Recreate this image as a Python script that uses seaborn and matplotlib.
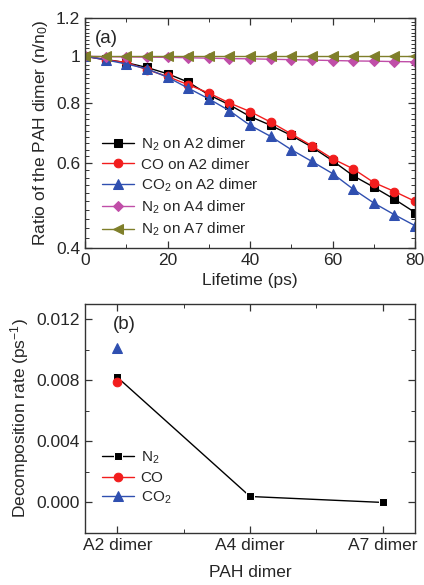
import numpy as np
import pandas as pd
import matplotlib
matplotlib.use("Agg")
import matplotlib.pyplot as plt
from matplotlib.ticker import FixedLocator, NullFormatter, MultipleLocator
import seaborn as sns

sns.set_style("ticks")
plt.rcParams['font.family'] = ['Liberation Sans', 'DejaVu Sans']
plt.rcParams['mathtext.fontset'] = 'custom'
plt.rcParams['mathtext.rm'] = 'Liberation Sans'
plt.rcParams['mathtext.it'] = 'Liberation Sans:italic'
plt.rcParams['mathtext.bf'] = 'Liberation Sans:bold'

# ---- data: panel (a) ----
lifetime = [0, 5, 10, 15, 20, 25, 30, 35, 40, 45, 50, 55, 60, 65, 70, 75, 80]
n2_a2 = [1.000, 0.985, 0.970, 0.948, 0.920, 0.884, 0.832, 0.793, 0.750, 0.719,
         0.685, 0.648, 0.607, 0.565, 0.535, 0.505, 0.474]
co_a2 = [1.000, 0.983, 0.971, 0.938, 0.908, 0.873, 0.839, 0.800, 0.768, 0.730,
         0.690, 0.652, 0.613, 0.584, 0.547, 0.524, 0.500]
co2_a2 = [1.000, 0.983, 0.964, 0.942, 0.905, 0.859, 0.816, 0.771, 0.719, 0.682,
          0.640, 0.605, 0.571, 0.530, 0.496, 0.469, 0.445]
n2_a4 = [1.000, 0.998, 0.997, 0.996, 0.995, 0.993, 0.991, 0.989, 0.988, 0.986,
         0.984, 0.982, 0.980, 0.978, 0.977, 0.975, 0.974]
n2_a7 = [1.000, 1.000, 1.000, 1.000, 1.000, 1.000, 1.000, 1.000, 1.000, 1.000,
         1.000, 1.000, 1.000, 1.000, 1.000, 1.000, 1.000]

series_a = ["N$_2$ on A2 dimer", "CO on A2 dimer", "CO$_2$ on A2 dimer",
            "N$_2$ on A4 dimer", "N$_2$ on A7 dimer"]
values_a = [n2_a2, co_a2, co2_a2, n2_a4, n2_a7]
colors_a = ["#000000", "#f21d1d", "#2f4fb0", "#c04ea8", "#7f7f2a"]
markers_a = ["s", "o", "^", "D", "<"]
msizes_a = [5.5, 6.2, 6.5, 5.5, 6.5]

y_ticks_a = [0.4, 0.6, 0.8, 1.0, 1.2]
y_ticklabels_a = ["0.4", "0.6", "0.8", "1", "1.2"]

# ---- data: panel (b) ----
dimers = ["A2 dimer", "A4 dimer", "A7 dimer"]
rate_n2 = [0.0082, 0.00039, 0.0]
rate_co = [0.0079]
rate_co2 = [0.01016]

fig = plt.figure(figsize=(4.24, 5.85), dpi=100)
ax1 = fig.add_axes([0.2005, 0.576, 0.7785, 0.393])
ax2 = fig.add_axes([0.2005, 0.089, 0.7785, 0.391])

# panel (a)
for name, vals, c, m, ms in zip(series_a, values_a, colors_a, markers_a, msizes_a):
    df = pd.DataFrame({"t": lifetime, "v": vals})
    sns.lineplot(data=df, x="t", y="v", ax=ax1, color=c, marker=m,
                 markersize=ms, markeredgecolor=c, linewidth=1.0,
                 label=name)
ax1.set_yscale("log")
ax1.set_xlim(0, 80)
ax1.set_ylim(0.4, 1.2)
ax1.yaxis.set_major_locator(FixedLocator(y_ticks_a))
ax1.set_yticklabels(y_ticklabels_a)
ax1.yaxis.set_minor_locator(FixedLocator(np.arange(0.42, 1.2, 0.02)))
ax1.yaxis.set_minor_formatter(NullFormatter())
ax1.xaxis.set_major_locator(MultipleLocator(20))
ax1.xaxis.set_minor_locator(MultipleLocator(10))
ax1.set_xlabel("Lifetime (ps)", fontsize=12.5, labelpad=4)
ax1.set_ylabel("Ratio of the PAH dimer (n/n$_0$)", fontsize=12.5)
ax1.text(0.03, 0.95, "(a)", transform=ax1.transAxes, fontsize=13.5, va="top")
leg1 = ax1.legend(loc="lower left", bbox_to_anchor=(0.02, -0.005), frameon=False,
                  fontsize=11, handlelength=2.1, handletextpad=0.4,
                  labelspacing=0.32, borderaxespad=0.3)

# panel (b)
df_n2 = pd.DataFrame({"d": [0, 1, 2], "r": rate_n2})
sns.lineplot(data=df_n2, x="d", y="r", ax=ax2, color="#000000", marker="s",
             markersize=5.5, linewidth=1.0, label="N$_2$")
df_co = pd.DataFrame({"d": [0], "r": rate_co})
sns.lineplot(data=df_co, x="d", y="r", ax=ax2, color="#f21d1d", marker="o",
             markersize=6.2, markeredgecolor="#f21d1d", linewidth=1.0, label="CO")
df_co2 = pd.DataFrame({"d": [0], "r": rate_co2})
sns.lineplot(data=df_co2, x="d", y="r", ax=ax2, color="#2f4fb0", marker="^",
             markersize=6.5, markeredgecolor="#2f4fb0", linewidth=1.0, label="CO$_2$")
ax2.set_xlim(-0.245, 2.245)
ax2.set_ylim(-0.002, 0.013)
ax2.set_xticks([0, 1, 2])
ax2.set_xticklabels(dimers)
ax2.xaxis.set_minor_locator(FixedLocator([0.5, 1.5]))
ax2.yaxis.set_major_locator(FixedLocator([0.0, 0.004, 0.008, 0.012]))
ax2.set_yticklabels(["0.000", "0.004", "0.008", "0.012"])
ax2.yaxis.set_minor_locator(FixedLocator([-0.002, 0.002, 0.006, 0.010]))
ax2.set_xlabel("PAH dimer", fontsize=12.5, labelpad=9)
ax2.set_ylabel("Decomposition rate (ps$^{-1}$)", fontsize=12.5)
ax2.text(0.085, 0.95, "(b)", transform=ax2.transAxes, fontsize=13.5, va="top")
leg2 = ax2.legend(loc="lower left", bbox_to_anchor=(0.02, 0.07), frameon=False,
                  fontsize=11, handlelength=2.1, handletextpad=0.4,
                  labelspacing=0.32, borderaxespad=0.3)

for ax in (ax1, ax2):
    ax.tick_params(which="both", direction="in", top=True, right=True,
                   labelsize=12.5, color="#333333")
    ax.tick_params(which="major", length=5, width=0.9)
    ax.tick_params(which="minor", length=3, width=0.7)
    for s in ax.spines.values():
        s.set_linewidth(1.0)
        s.set_color("#333333")

fig.savefig("out.png", dpi=100)
